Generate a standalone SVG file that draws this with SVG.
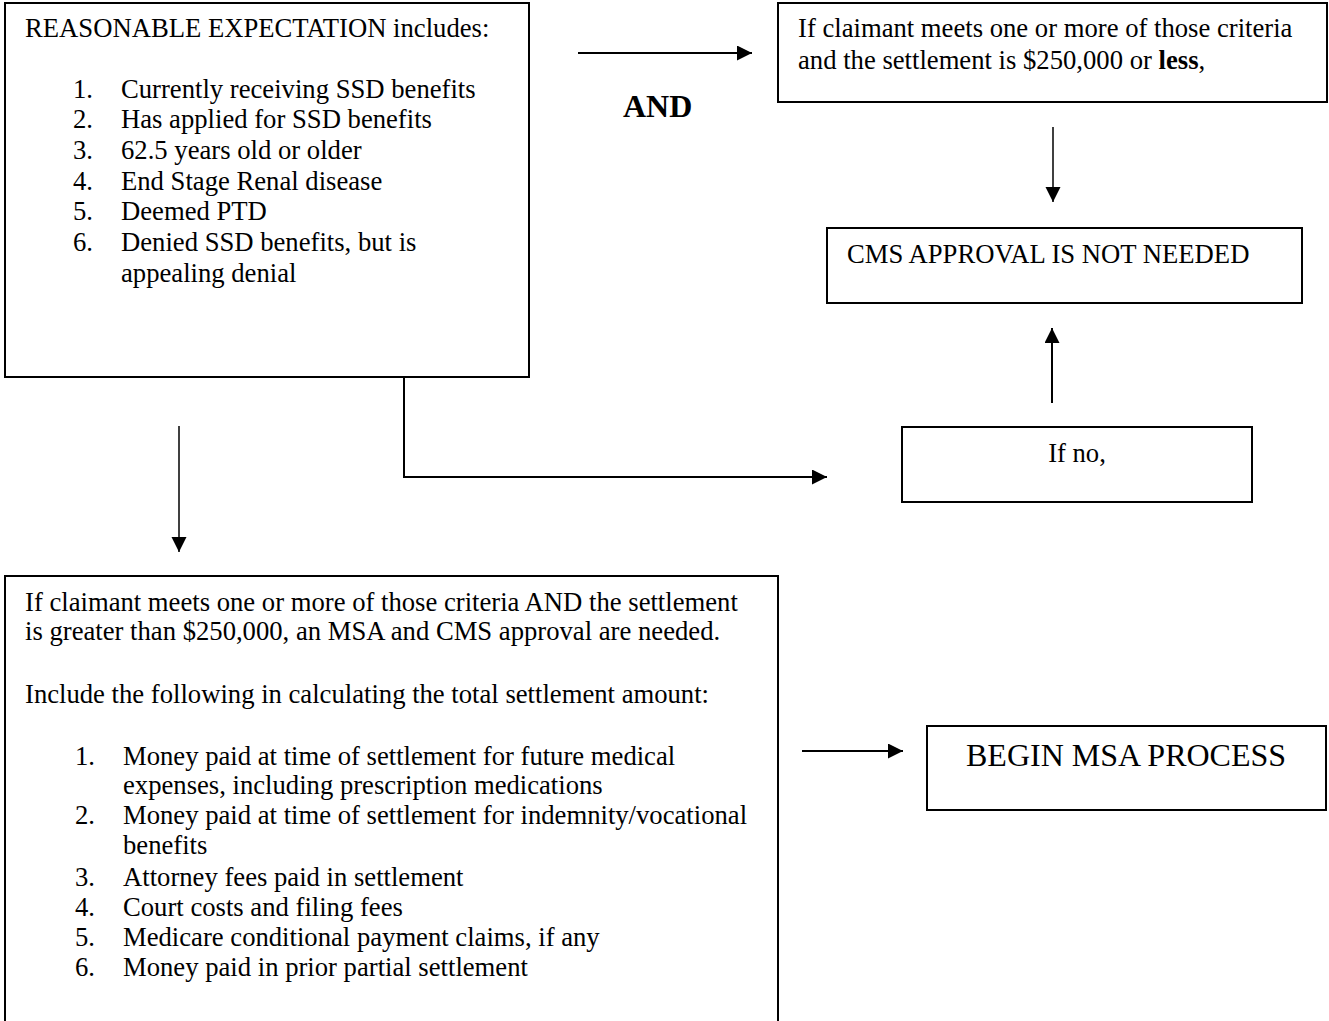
<svg xmlns="http://www.w3.org/2000/svg" width="1329" height="1021" viewBox="0 0 1329 1021">
<style>
.box{fill:#fff;stroke:#000;stroke-width:2}
.t{font-family:"Liberation Serif","Times New Roman",serif;font-size:26.67px;fill:#000}
.big{font-family:"Liberation Serif","Times New Roman",serif;font-size:32px;fill:#000}
.b{font-weight:bold}
.c{fill:none;stroke:#000;stroke-width:2}
.cthin{fill:none;stroke:#000;stroke-width:1.5}
</style>
<defs>
<marker id="ah" markerUnits="userSpaceOnUse" markerWidth="16" markerHeight="16" refX="15" refY="7.5" orient="auto">
<path d="M0,0 L15,7.5 L0,15 Z" fill="#000"/>
</marker>
</defs>
<rect width="1329" height="1021" fill="#fff"/>

<g id="connectors">
<line class="c" x1="578" y1="53" x2="752" y2="53" marker-end="url(#ah)"/>
<line class="cthin" x1="1053" y1="127" x2="1053" y2="202" marker-end="url(#ah)"/>
<line class="c" x1="1052" y1="403" x2="1052" y2="328" marker-end="url(#ah)"/>
<polyline class="c" points="404,377 404,477 827,477" marker-end="url(#ah)"/>
<line class="cthin" x1="179" y1="426" x2="179" y2="552" marker-end="url(#ah)"/>
<line class="c" x1="802" y1="751" x2="903" y2="751" marker-end="url(#ah)"/>
</g>

<g id="and-label">
<text class="big b" x="623" y="117">AND</text>
</g>

<g id="reasonable-expectation">
<rect class="box" x="5" y="3" width="524" height="374"/>
<text class="t" x="25" y="37">REASONABLE EXPECTATION includes:</text>
<text class="t" x="73" y="98">1.</text><text class="t" x="121" y="98">Currently receiving SSD benefits</text>
<text class="t" x="73" y="128">2.</text><text class="t" x="121" y="128">Has applied for SSD benefits</text>
<text class="t" x="73" y="159">3.</text><text class="t" x="121" y="159">62.5 years old or older</text>
<text class="t" x="73" y="190">4.</text><text class="t" x="121" y="190">End Stage Renal disease</text>
<text class="t" x="73" y="220">5.</text><text class="t" x="121" y="220">Deemed PTD</text>
<text class="t" x="73" y="251">6.</text><text class="t" x="121" y="251">Denied SSD benefits, but is</text>
<text class="t" x="121" y="282">appealing denial</text>
</g>

<g id="less-box">
<rect class="box" x="778" y="3" width="549" height="99"/>
<text class="t" x="798" y="37">If claimant meets one or more of those criteria</text>
<text class="t" x="798" y="69">and the settlement is $250,000 or <tspan class="b">less</tspan>,</text>
</g>

<g id="cms-not-needed">
<rect class="box" x="827" y="228" width="475" height="75"/>
<text class="t" x="847" y="263">CMS APPROVAL IS NOT NEEDED</text>
</g>

<g id="if-no">
<rect class="box" x="902" y="427" width="350" height="75"/>
<text class="t" x="1077" y="462" text-anchor="middle">If no,</text>
</g>

<g id="greater-box">
<rect class="box" x="5" y="576" width="773" height="460"/>
<text class="t" x="25" y="611">If claimant meets one or more of those criteria AND the settlement</text>
<text class="t" x="25" y="640">is greater than $250,000, an MSA and CMS approval are needed.</text>
<text class="t" x="25" y="703">Include the following in calculating the total settlement amount:</text>
<text class="t" x="75" y="765">1.</text><text class="t" x="123" y="765">Money paid at time of settlement for future medical</text>
<text class="t" x="123" y="794">expenses, including prescription medications</text>
<text class="t" x="75" y="824">2.</text><text class="t" x="123" y="824">Money paid at time of settlement for indemnity/vocational</text>
<text class="t" x="123" y="854">benefits</text>
<text class="t" x="75" y="886">3.</text><text class="t" x="123" y="886">Attorney fees paid in settlement</text>
<text class="t" x="75" y="916">4.</text><text class="t" x="123" y="916">Court costs and filing fees</text>
<text class="t" x="75" y="946">5.</text><text class="t" x="123" y="946">Medicare conditional payment claims, if any</text>
<text class="t" x="75" y="976">6.</text><text class="t" x="123" y="976">Money paid in prior partial settlement</text>
</g>

<g id="begin-msa">
<rect class="box" x="927" y="726" width="399" height="84"/>
<text class="big" x="966" y="766">BEGIN MSA PROCESS</text>
</g>
</svg>
